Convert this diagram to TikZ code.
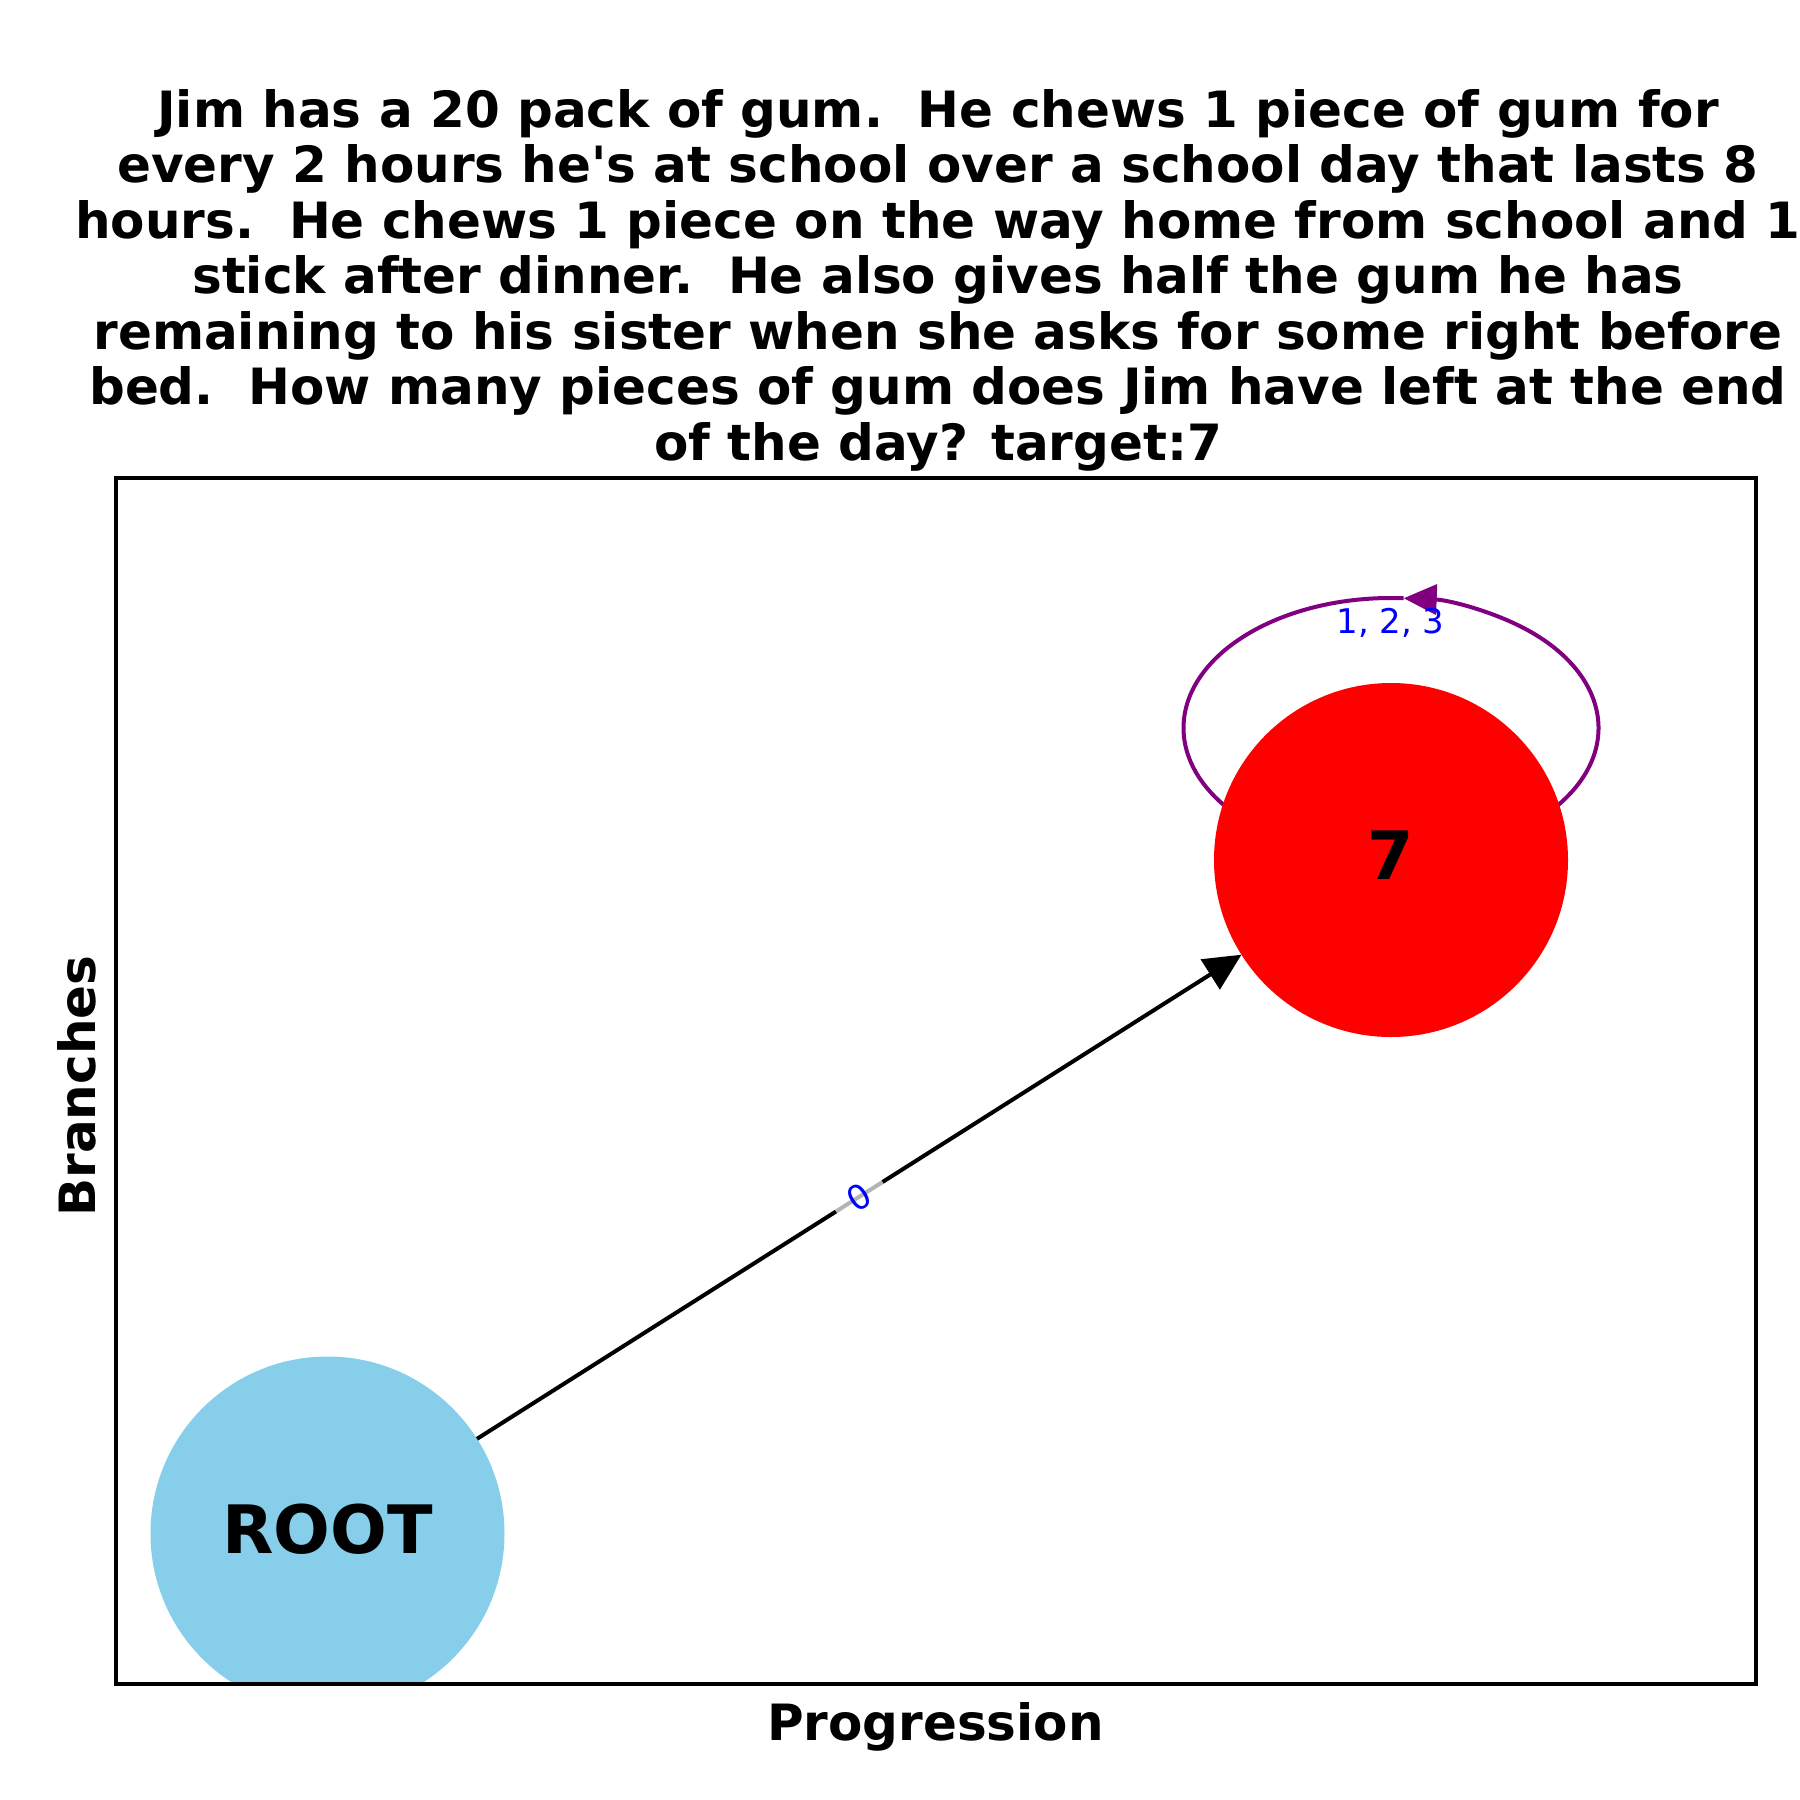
\documentclass[tikz,border=0pt]{standalone}
\usepackage{fontspec}
\newfontfamily\djv{DejaVu Sans}
\usetikzlibrary{arrows.meta}
\definecolor{nodeblue}{RGB}{135,206,235}
\definecolor{loopcol}{RGB}{128,0,128}
\pgfdeclarelayer{paper}
\pgfdeclarelayer{loops}
\pgfsetlayers{paper,loops,main}
\begin{document}
\begin{tikzpicture}[x=0.4pt,y=-0.4pt,
  every node/.style={font=\djv},
  gnode/.style={circle, minimum size=141.6pt, inner sep=0pt, outer sep=0pt,
    font=\djv\bfseries\fontsize{26.7pt}{26.7pt}\selectfont, text depth=3.8pt},
  edgeline/.style={line width=1.6pt, -{Triangle[length=14.8pt,width=14pt]}},
  loopline/.style={line width=1.6pt, draw=loopcol},
  looptip/.style={-{Triangle[length=13.2pt,width=12pt]}},
  elabel/.style={font=\djv\fontsize{13.6pt}{13.6pt}\selectfont, text=blue},
  axlabel/.style={font=\djv\bfseries\fontsize{20pt}{20pt}\selectfont, inner sep=0pt},
  titlestyle/.style={font=\djv\bfseries\fontsize{20pt}{22.2pt}\selectfont, align=center, inner sep=0pt},
  frame/.style={line width=1.3pt}
]
\useasboundingbox (0,0) rectangle (1800,1800);
\begin{pgfonlayer}{paper}
\fill[white] (0,0) rectangle (1800,1800);
\end{pgfonlayer}

\node[titlestyle, anchor=base] (title) at (938,460) {Jim has a 20 pack of gum.\ \ He chews 1 piece of gum for\\
every 2 hours he's at school over a school day that lasts 8\\
hours.\ \ He chews 1 piece on the way home from school and 1\\
stick after dinner.\ \ He also gives half the gum he has\\
remaining to his sister when she asks for some right before\\
bed.\ \ How many pieces of gum does Jim have left at the end\\
of the day? target:7};

\begin{scope}
\clip (116,478) rectangle (1756,1684);
\node[gnode, fill=nodeblue] (root) at (327.5,1533.5) {ROOT};
\node[gnode, fill=red] (seven) at (1391,860) {7};
\end{scope}

\begin{pgfonlayer}{loops}
\draw[loopline, looptip] ([yshift=52.8pt]seven.center) ++(-40:83pt and 52pt)
  arc[start angle=-40, end angle=86.5, x radius=83pt, y radius=52pt];
\draw[loopline] ([yshift=52.8pt]seven.center) ++(86.5:83pt and 52pt)
  arc[start angle=86.5, end angle=220, x radius=83pt, y radius=52pt];
\end{pgfonlayer}

\draw[edgeline] (root) -- node[sloped, elabel, fill=white, fill opacity=0.7, text opacity=1,
  inner xsep=6.7pt, inner ysep=2pt] (l0) {0} (seven);

\node[elabel, anchor=base, inner sep=0pt] (l123) at (1390.5,633) {1, 2, 3};

\draw[frame] (116,478) rectangle (1756,1684);

\node[axlabel, anchor=base] (xlab) at (935.5,1740) {Progression};
\node[axlabel, anchor=base, rotate=90] (ylab) at (95,1086) {Branches};
\end{tikzpicture}
\end{document}
